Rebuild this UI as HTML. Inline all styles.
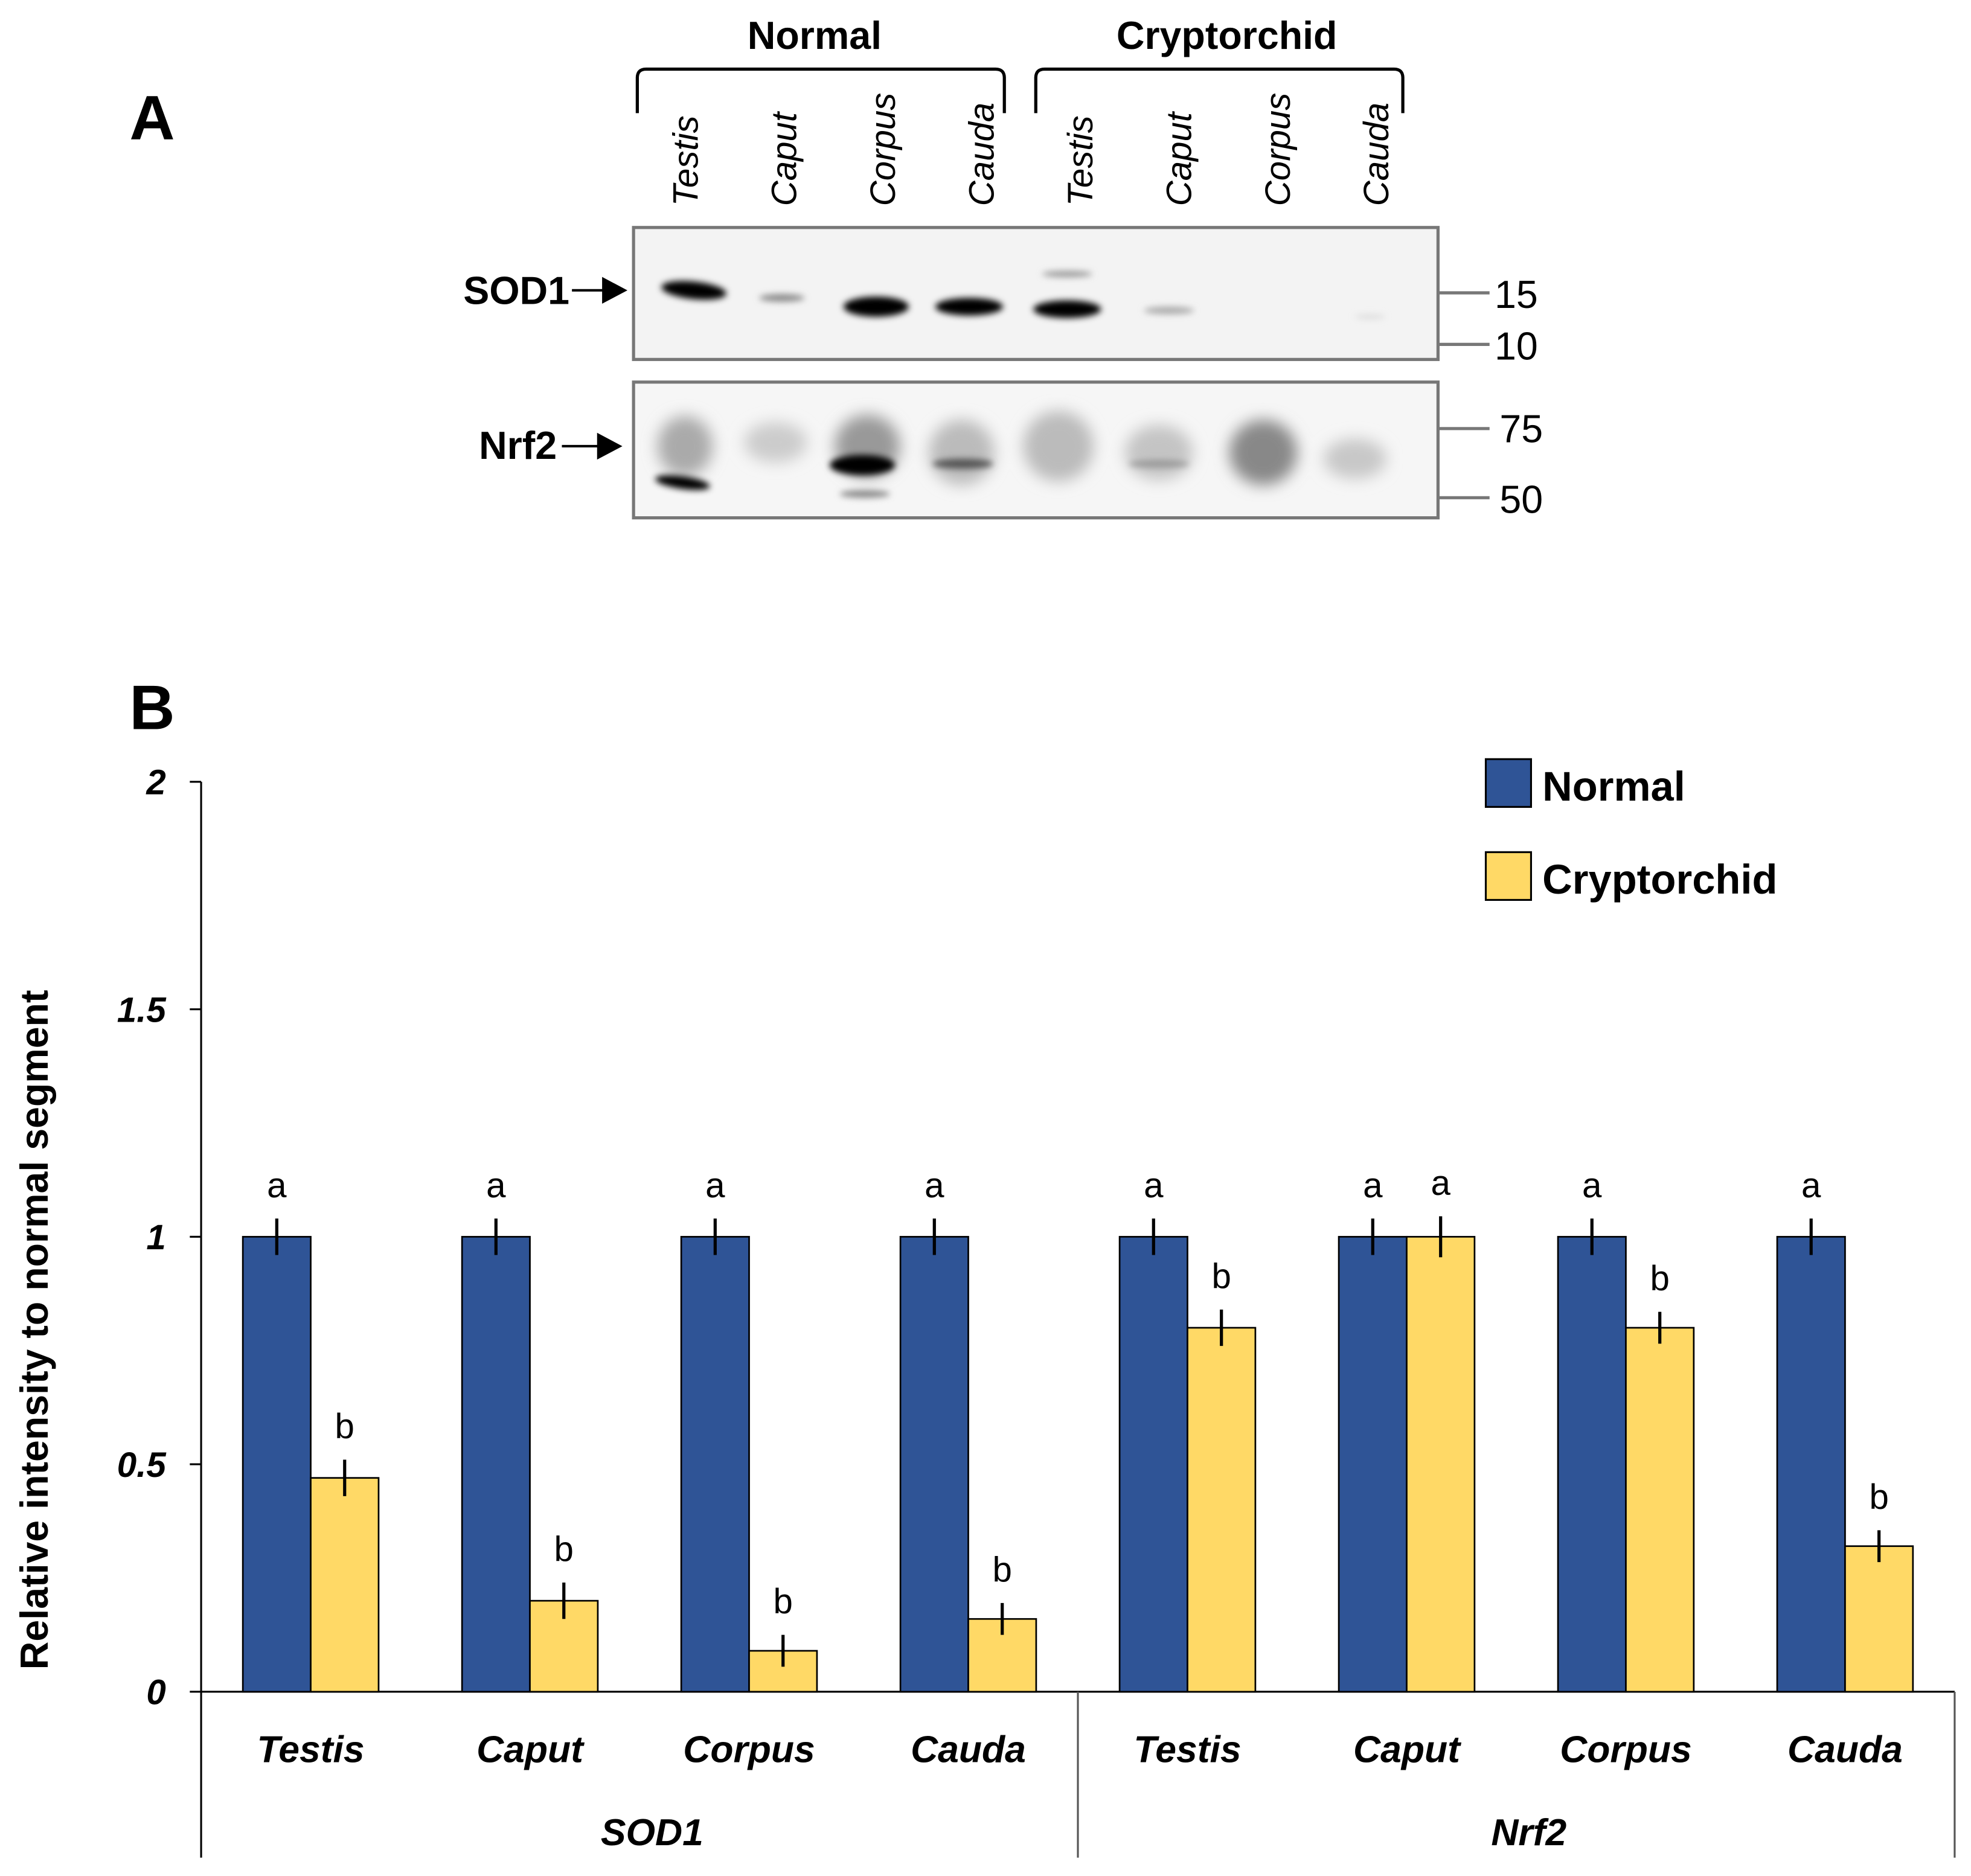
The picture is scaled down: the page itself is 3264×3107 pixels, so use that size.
<!DOCTYPE html>
<html><head><meta charset="utf-8"><style>
html,body{margin:0;padding:0;background:#fff;}
svg{display:block;}
text{font-family:"Liberation Sans",sans-serif;}
</style></head><body>
<svg id="fig" width="3264" height="3107" viewBox="0 0 1568 1492.6" preserveAspectRatio="none">
<defs>
<filter id="b2" x="-50%" y="-200%" width="200%" height="500%"><feGaussianBlur stdDeviation="2.5"/></filter>
<filter id="b5" x="-50%" y="-100%" width="200%" height="300%"><feGaussianBlur stdDeviation="6"/></filter>
</defs>
<!-- Panel A -->
<text x="103" y="111" font-size="50" font-weight="bold">A</text>
<text x="648" y="39" font-size="31" font-weight="bold" text-anchor="middle">Normal</text>
<text x="976" y="39" font-size="31" font-weight="bold" text-anchor="middle">Cryptorchid</text>
<path d="M507,90 V62 Q507,55 514,55 H792 Q799,55 799,62 V90" fill="none" stroke="#000" stroke-width="2.5"/>
<path d="M824,90 V62 Q824,55 831,55 H1109 Q1116,55 1116,62 V90" fill="none" stroke="#000" stroke-width="2.5"/>
<g id="lanes" font-size="28" font-style="italic"></g>
<g>
<rect x="504" y="181" width="640" height="105" fill="#f3f3f3" stroke="#777" stroke-width="2.5"/>
<g filter="url(#b2)" fill="#000">
<ellipse cx="552" cy="231" rx="26" ry="7" transform="rotate(6 552 231)"/>
<ellipse cx="622" cy="237" rx="18" ry="3" fill="#888"/>
<ellipse cx="697" cy="244" rx="26" ry="8"/>
<ellipse cx="771" cy="244" rx="27" ry="7"/>
<ellipse cx="849" cy="246" rx="27" ry="7"/>
<ellipse cx="849" cy="218" rx="20" ry="2.5" fill="#999"/>
<ellipse cx="930" cy="247" rx="20" ry="3" fill="#aaa"/>
<ellipse cx="1090" cy="252" rx="12" ry="2" fill="#ddd"/>
</g>
</g>
<g>
<rect x="504" y="304" width="640" height="108" fill="#f6f6f6" stroke="#777" stroke-width="2.5"/>
<g filter="url(#b5)">
<ellipse cx="545" cy="355" rx="22" ry="24" fill="#aaa"/>
<ellipse cx="617" cy="352" rx="25" ry="16" fill="#ccc"/>
<ellipse cx="690" cy="355" rx="26" ry="25" fill="#999"/>
<ellipse cx="765" cy="360" rx="26" ry="26" fill="#bbb"/>
<ellipse cx="842" cy="355" rx="28" ry="28" fill="#bbb"/>
<ellipse cx="922" cy="360" rx="27" ry="22" fill="#c4c4c4"/>
<ellipse cx="1005" cy="360" rx="27" ry="26" fill="#888"/>
<ellipse cx="1078" cy="365" rx="25" ry="16" fill="#c8c8c8"/>
</g>
<g filter="url(#b2)" fill="#000">
<ellipse cx="543" cy="384" rx="22" ry="5" transform="rotate(8 543 384)"/>
<ellipse cx="686" cy="370" rx="26" ry="8"/>
<ellipse cx="766" cy="369" rx="24" ry="4" fill="#555"/>
<ellipse cx="922" cy="369" rx="24" ry="3" fill="#999"/>
<ellipse cx="688" cy="393" rx="20" ry="3" fill="#888"/>
</g>
</g>
<g stroke="#777" stroke-width="2.5">
<line x1="1145" y1="233" x2="1185" y2="233"/><line x1="1145" y1="274" x2="1185" y2="274"/>
<line x1="1145" y1="341" x2="1185" y2="341"/><line x1="1145" y1="396" x2="1185" y2="396"/>
</g>
<g font-size="31">
<text x="1189" y="245">15</text><text x="1189" y="286">10</text>
<text x="1193" y="352">75</text><text x="1193" y="408">50</text>
</g>
<text x="453" y="242" font-size="31" font-weight="bold" text-anchor="end">SOD1</text>
<path d="M455,231 H480 M480,222 L497,231 L480,240 Z" stroke="#000" stroke-width="2"/>
<text x="443" y="365" font-size="31" font-weight="bold" text-anchor="end">Nrf2</text>
<path d="M447,355 H476 M476,346 L493,355 L476,364 Z" stroke="#000" stroke-width="2"/>
<!-- Panel B -->
<text x="103" y="580" font-size="50" font-weight="bold">B</text>
<g id="chart"></g>
<rect x="1182" y="604" width="36" height="38" fill="#2f5496" stroke="#000" stroke-width="1.5"/>
<text x="1227" y="637" font-size="33" font-weight="bold">Normal</text>
<rect x="1182" y="678" width="36" height="38" fill="#ffd966" stroke="#000" stroke-width="1.5"/>
<text x="1227" y="711" font-size="33" font-weight="bold">Cryptorchid</text>
<text transform="translate(38,1058) rotate(-90)" font-size="31" font-weight="bold" text-anchor="middle">Relative intensity to normal segment</text>
</svg>
<script>
const NS="http://www.w3.org/2000/svg";
const laneNames=["Testis","Caput","Corpus","Cauda","Testis","Caput","Corpus","Cauda"];
const categories=["Testis","Caput","Corpus","Cauda","Testis","Caput","Corpus","Cauda"];
const groups=["SOD1","Nrf2"];
const normalValues=[1,1,1,1,1,1,1,1];
const normalErrors=[0.04,0.04,0.04,0.04,0.04,0.04,0.04,0.04];
const cryptValues=[0.47,0.20,0.09,0.16,0.80,1.00,0.80,0.32];
const cryptErrors=[0.04,0.04,0.035,0.035,0.04,0.045,0.035,0.035];
const normalLetters=["a","a","a","a","a","a","a","a"];
const cryptLetters=["b","b","b","b","b","a","b","b"];
const yTicks=[0,0.5,1,1.5,2];
const yTickLabels=["0","0.5","1","1.5","2"];

function mk(tag,attrs,parent,txt){const e=document.createElementNS(NS,tag);for(const k in attrs)e.setAttribute(k,attrs[k]);if(txt!==undefined)e.textContent=txt;parent.appendChild(e);return e;}

const lanes=document.getElementById('lanes');
const laneX=i=>545+i*78.5;
laneNames.forEach((n,i)=>{
  const t=mk('text',{transform:`translate(${laneX(i)+10},164) rotate(-90)`},lanes,n);
  
  
});

const chart=document.getElementById('chart');
const x0=160,x1=1555,yBase=1346,yTop=622,yMax=2;
const y=v=>yBase-(v/yMax)*(yBase-yTop);
const gw=(x1-x0)/categories.length;
const bw=54;
const gc=i=>x0+gw*(i+0.5);

const ax=mk('line',{x1:x0,y1:yTop,x2:x0,y2:1478,stroke:'#000','stroke-width':1.5},chart);


const xa=mk('line',{x1:x0,y1:yBase,x2:x1,y2:yBase,stroke:'#000','stroke-width':1.5},chart);


[x0+gw*4,x1].forEach((sx,i)=>{
  const l=mk('line',{x1:sx,y1:yBase,x2:sx,y2:1478,stroke:'#555','stroke-width':1.5},chart);
  
  
});
yTicks.forEach((v,i)=>{
  const t=mk('line',{x1:x0-9,y1:y(v),x2:x0,y2:y(v),stroke:'#000','stroke-width':1.5},chart);
  
  
  const l=mk('text',{x:x0-28,y:y(v)+10,'font-size':28,'font-weight':'bold','font-style':'italic','text-anchor':'end'},chart,yTickLabels[i]);
  
  
});
function bar(xl,v,err,fill,letter,name){
  const r=mk('rect',{x:xl,y:y(v),width:bw,height:yBase-y(v),fill:fill,stroke:'#000','stroke-width':1.3},chart);
  
  
  const cx=xl+bw/2;
  const e=mk('line',{x1:cx,y1:y(v+err),x2:cx,y2:y(v-err),stroke:'#000','stroke-width':2.5},chart);
  
  
  const t=mk('text',{x:cx,y:y(v+err)-17,'font-size':28,'text-anchor':'middle'},chart,letter);
  
  
}
categories.forEach((c,i)=>{
  const cx=gc(i);
  bar(cx-bw,normalValues[i],normalErrors[i],'#2f5496',normalLetters[i],'bar-normal-'+i);
  bar(cx,cryptValues[i],cryptErrors[i],'#ffd966',cryptLetters[i],'bar-cryptorchid-'+i);
  const t=mk('text',{x:cx,y:1402,'font-size':30,'font-weight':'bold','font-style':'italic','text-anchor':'middle'},chart,c);
  
  
});
groups.forEach((g,i)=>{
  const t=mk('text',{x:x0+gw*4*(i+0.5)+10,y:1468,'font-size':30,'font-weight':'bold','font-style':'italic','text-anchor':'middle'},chart,g);
  
  
});
</script>
</body></html>
